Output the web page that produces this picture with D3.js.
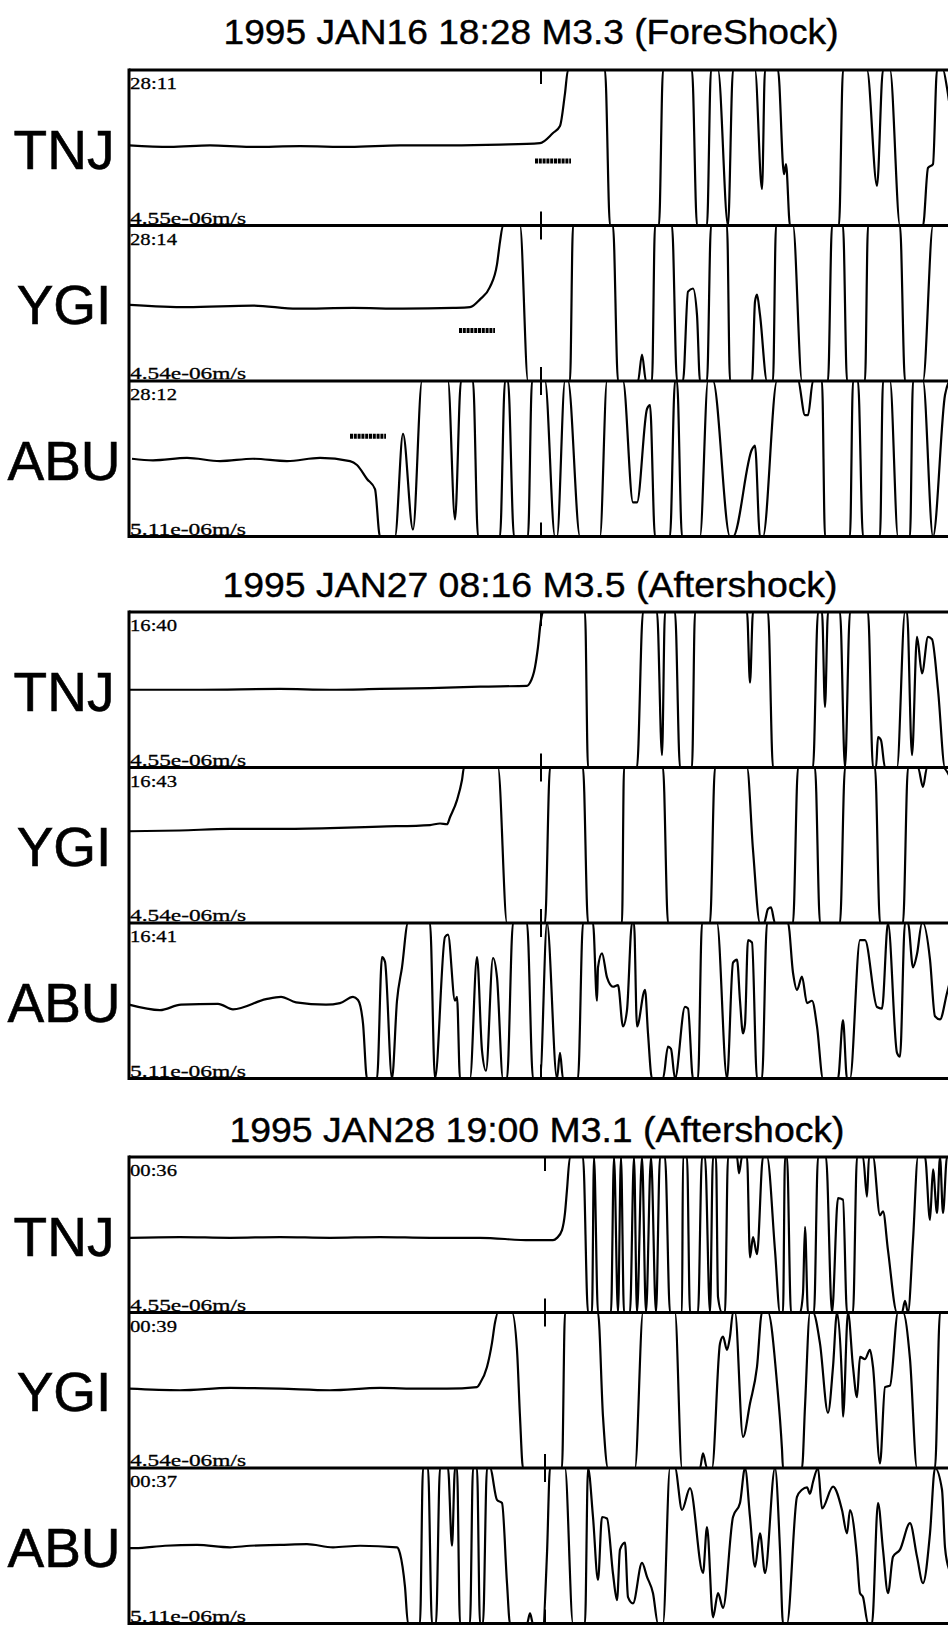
<!DOCTYPE html>
<html>
<head>
<meta charset="utf-8">
<script src="https://cdn.jsdelivr.net/npm/d3@7"></script>
<style>
  body { margin: 0; background: #fff; }
  svg { display: block; }
</style>
</head>
<body>
<div id="chart"></div>
<script>
// event titles, stations and labels
var titles = ["1995 JAN16 18:28 M3.3 (ForeShock)",
              "1995 JAN27 08:16 M3.5 (Aftershock)",
              "1995 JAN28 19:00 M3.1 (Aftershock)"];
var stations = ["TNJ", "YGI", "ABU"];
var fullScale = ["4.55e-06m/s", "4.54e-06m/s", "5.11e-06m/s"];
var startTimes = [["28:11", "28:14", "28:12"],
                  ["16:40", "16:43", "16:41"],
                  ["00:36", "00:39", "00:37"]];

// time mark per event, P pick marks (first event only)
var markTimes = [41.2, 41.2, 41.6];
var pickTimes = [40.6, 33.0, 22.1];
var pickAmps = [-0.17, -0.35, 0.29];
var pickLength = 3.6;

// traces: [time, amplitude as fraction of full scale]
var tnj1 = [[0,0.03],[4.1,0.01],[8.1,0.03],[12.1,0.01],[17.1,0.02],[22.1,0.01],[27.1,0.03],[32.1,0.03],[37.1,0.04],[41.1,0.06],[42.4,0.19],[43.1,0.28],[43.6,0.70],[43.9,1],[47.6,1],[48.1,-1],[53.0,-1],[53.4,1],[56.3,1],[56.8,-1],[57.8,-1],[58.2,1],[58.9,1],[59.9,-1],[60.4,1],[62.6,1],[63.3,-0.53],[63.6,1],[64.9,1],[65.5,-0.34],[65.7,-0.21],[66.1,-1],[71.0,-1],[71.4,1],[73.8,1],[74.8,-0.49],[75.4,1],[76.1,1],[77.1,-1],[79.4,-1],[79.9,-0.26],[80.4,-0.21],[80.8,1],[81.4,1],[81.8,0.77],[82,0.6]];
var ygi1 = [[0.1,-0.02],[5.8,-0.05],[12.4,-0.03],[16.8,-0.07],[22.4,-0.06],[27.4,-0.07],[32.4,-0.06],[34.1,-0.05],[35.1,0.05],[36.1,0.21],[36.8,0.50],[37.1,0.79],[37.4,1],[39.1,1],[39.9,-1],[44.1,-1],[44.4,1],[48.4,1],[48.9,-1],[50.9,-1],[51.3,-0.66],[51.7,-1],[52.3,-1],[52.6,1],[54.3,1],[54.8,-1],[55.4,-1],[55.9,0.15],[56.4,0.19],[56.8,-0.15],[57.1,-1],[57.8,-1],[58.2,1],[59.8,1],[60.1,-1],[62.3,-1],[62.6,0.02],[62.8,0.11],[63.1,-0.15],[63.8,-1],[64.4,-1],[64.7,1],[66.4,1],[67.3,-1],[69.9,-1],[70.3,1],[71.4,1],[71.8,-1],[73.6,-1],[73.9,1],[77.1,1],[77.6,-1],[79.4,-1],[80.4,1],[82,1]];
var abu1 = [[0.3,0],[2.4,-0.02],[5.8,0.01],[9.1,-0.03],[12.4,0],[15.8,-0.03],[19.1,0.01],[22.1,-0.03],[22.8,-0.08],[23.8,-0.26],[24.6,-0.39],[25.1,-1],[26.6,-1],[27.4,0.32],[28.4,-0.91],[29.3,1],[31.9,1],[32.6,-0.78],[33.2,1],[34.4,1],[34.9,-1],[37.1,-1],[37.6,1],[37.9,1],[38.5,-1],[39.9,-1],[40.3,1],[41.6,1],[42.6,-1],[42.8,-1],[43.6,1],[43.9,1],[45.1,-1],[47.1,-1],[47.8,1],[49.4,1],[50.4,-0.56],[50.8,-0.56],[51.8,0.64],[52.1,0.69],[52.6,-1],[54.1,-1],[54.6,1],[54.8,1],[55.3,-1],[57.1,-1],[57.9,1],[58.4,1],[60.1,-1],[60.4,-1],[62.3,0.12],[62.6,0.17],[63.1,-1],[63.4,-1],[64.8,1],[66.9,1],[67.6,0.56],[67.9,0.56],[68.4,1],[69.3,1],[69.6,-1],[72.1,-1],[72.4,1],[72.9,1],[73.4,-1],[75.1,-1],[75.4,1],[76.1,1],[76.9,-1],[78.1,-1],[78.4,1],[79.4,1],[80.4,-1],[81.6,0.82],[82,1]];

var tnj2 = [[0,0],[7.1,0],[15.1,0.01],[20.1,0],[25.1,0.01],[30.1,0.02],[35.1,0.04],[39.8,0.05],[40.1,0.09],[40.6,0.29],[40.9,0.55],[41.2,0.9],[41.4,1],[45.6,1],[45.9,-1],[50.8,-1],[51.4,1],[52.8,1],[53.3,-0.84],[53.6,1],[54.6,1],[55.1,-1],[56.3,-1],[56.6,1],[61.8,1],[62.1,0.09],[62.4,1],[63.9,1],[64.4,-1],[68.4,-1],[68.9,1],[69.3,1],[69.6,-0.22],[69.9,1],[71.1,1],[71.6,-1],[72.1,1],[73.9,1],[74.4,-1],[74.7,-1],[74.9,-0.61],[75.2,-0.65],[75.6,-1],[76.8,-1],[77.6,1],[77.8,1],[78.3,-0.84],[78.8,0.68],[79.3,0.21],[79.9,0.68],[80.3,0.65],[80.9,0],[81.6,-1],[82,-1]];
var ygi2 = [[0,0.18],[5.1,0.19],[10.1,0.21],[15.1,0.21],[20.1,0.22],[25.1,0.24],[30.1,0.26],[31.1,0.28],[31.8,0.27],[32.1,0.36],[32.8,0.58],[33.3,0.84],[33.5,1],[36.9,1],[37.8,-1],[41.6,-1],[42.1,1],[45.4,1],[45.9,-1],[49.3,-1],[49.5,1],[53.4,1],[53.9,-1],[58.1,-1],[58.6,1],[61.8,1],[62.4,-0.06],[63.1,-1],[63.5,-1],[63.9,-0.82],[64.2,-0.8],[64.6,-1],[66.4,-1],[66.9,1],[68.6,1],[69.1,-1],[71.1,-1],[71.6,1],[74.6,1],[75.1,-1],[77.4,-1],[77.9,1],[78.9,1],[79.4,0.75],[79.8,1],[81.4,1],[82,0.9]];
var abu2 = [[0,-0.05],[3.1,-0.12],[5.2,-0.05],[8.9,-0.04],[10.4,-0.11],[13.7,0.02],[15.2,0.05],[16.7,-0.02],[19.7,-0.05],[21.1,-0.03],[22.4,0.05],[22.9,0.01],[23.4,-0.29],[23.8,-1],[24.8,-1],[25.3,0.56],[25.6,0.5],[26.3,-1],[26.8,0],[27.3,0.43],[27.9,1],[30.1,1],[30.6,-1],[31.6,0.82],[31.9,0.85],[32.6,0],[32.8,0.05],[33.1,-1],[34.1,-1],[34.8,0.56],[35.3,-0.64],[35.7,-0.9],[36.4,0.55],[36.8,0.3],[37.4,-1],[37.8,-1],[38.4,1],[39.8,1],[40.4,-1],[41.1,-1],[41.8,1],[42.8,-1],[43.1,-0.67],[43.4,-1],[44.9,-1],[45.4,1],[46.4,1],[46.8,0],[46.9,0.43],[47.3,0.61],[47.8,0.3],[48.4,0.18],[48.9,0.2],[49.4,-0.33],[49.8,-0.12],[50.3,1],[50.5,1],[50.8,-0.33],[51.6,0.14],[51.9,-0.42],[52.3,-1],[53.4,-1],[53.9,-0.59],[54.2,-0.62],[54.6,-1],[55.6,-0.08],[55.9,-0.1],[56.4,-1],[56.9,-1],[57.3,1],[58.8,1],[59.8,-1],[60.4,0.49],[60.8,0.53],[61.1,0],[61.4,-0.42],[61.6,-0.3],[61.9,0.78],[62.3,0.75],[62.8,-1],[63.3,-1],[63.8,1],[65.9,1],[66.4,0.36],[66.8,0.14],[67.3,0.31],[67.8,-0.03],[68.3,0],[68.8,-0.33],[69.4,-1],[70.9,-1],[71.4,-0.25],[71.8,-1],[72.1,-1],[73.1,0.78],[73.6,0.78],[74.8,-0.08],[75.3,-0.1],[75.9,1],[76.8,-0.67],[77.1,-0.72],[77.6,1],[77.9,1],[78.4,0.43],[78.8,0.6],[79.3,1],[79.4,1],[80.1,0.53],[80.6,-0.2],[81.1,-0.24],[81.8,0.1],[82,0.2]];

var tnj3 = [[0,-0.04],[5.1,-0.03],[10.1,-0.04],[15.1,-0.03],[20.1,-0.04],[25.1,-0.03],[30.1,-0.04],[35.1,-0.04],[40.1,-0.07],[42.4,-0.07],[42.8,-0.04],[43.3,0.06],[43.6,0.28],[43.8,0.58],[44.1,1],[45.4,1],[45.9,-1],[46.3,-1],[46.5,1],[46.9,-1],[48.2,-1],[48.5,1],[48.9,-1],[49.2,1],[49.5,-1],[50.1,-1],[50.5,1],[50.8,-1],[51.3,1],[51.7,-1],[52.2,1],[52.7,-1],[53.1,1],[53.6,1],[54.1,-1],[55.3,-1],[55.4,1],[55.8,1],[56.1,-1],[56.9,-1],[57.3,1],[57.6,1],[58.1,-1],[58.4,1],[58.7,1],[58.9,-0.8],[59.3,-1],[59.6,-1],[59.9,1],[60.8,1],[61.0,0.79],[61.3,1],[61.8,1],[62.1,-0.29],[62.4,-0.03],[62.8,-0.25],[63.4,1],[63.8,1],[64.6,-0.2],[65.1,-1],[65.4,-1],[65.6,1],[65.8,1],[66.2,-1],[67.1,-1],[67.4,-0.75],[67.6,0.1],[67.9,-1],[68.5,-1],[68.9,1],[69.7,1],[70.3,-1],[70.9,0.47],[71.4,0.45],[71.8,-1],[72.4,-1],[72.8,1],[73.4,1],[73.8,0.49],[74.0,1],[74.4,1],[75.1,0.25],[75.4,0.3],[75.9,-0.2],[76.8,-1],[77.3,-1],[77.6,-0.85],[77.9,-1],[78.4,-0.07],[78.9,1],[79.6,1],[80.1,0.19],[80.4,0.84],[80.8,0.28],[81.1,1],[81.4,0.28],[81.8,1],[82,1]];
var ygi3 = [[0,0.02],[5.1,0],[10.1,0.03],[15.1,0.02],[20.1,0],[25.1,0.03],[29.1,0.02],[31.8,0.02],[34.8,0.04],[35.1,0.09],[35.8,0.3],[36.3,0.61],[36.6,0.87],[36.9,1],[38.3,1],[38.8,0.52],[39.1,-0.34],[39.4,-1],[43.3,-1],[43.6,1],[46.9,1],[47.4,-0.34],[47.9,-1],[50.6,-1],[51.4,1],[54.6,1],[55.3,-1],[57.1,-1],[57.4,-0.81],[57.8,-1],[58.3,-1],[59.1,0.6],[59.4,0.69],[59.8,0.52],[60.1,0.69],[60.4,1],[60.6,1],[61.4,-0.6],[62.1,-0.17],[62.8,0.3],[63.3,1],[63.9,1],[64.8,0.09],[65.3,-0.76],[65.4,-1],[67.3,-1],[67.6,-0.21],[68.1,1],[68.4,1],[69.1,0.6],[69.9,-0.29],[70.4,0.3],[70.8,1],[71.3,0.09],[71.4,-0.34],[71.9,1],[72.4,0.3],[72.8,-0.09],[73.1,0.43],[73.6,0.4],[74.1,0.52],[74.4,0.3],[75.1,-0.94],[75.6,0.04],[76.1,0.06],[76.9,1],[77.4,1],[78.1,0.4],[78.8,-1],[80.6,-1],[81.1,1],[82,1]];
var abu3 = [[0,-0.03],[0.6,-0.03],[3.6,0],[6.8,0.01],[10.1,-0.02],[12.1,0],[15.1,0.01],[17.8,0.02],[20.4,-0.02],[23.1,0],[26.8,-0.02],[27.1,-0.1],[27.6,-0.53],[27.9,-1],[29.1,-1],[29.4,1],[29.9,1],[30.3,-1],[30.7,-1],[31.1,1],[31.9,1],[32.3,0],[32.6,1],[32.8,1],[33.1,-1],[34.1,-1],[34.4,1],[34.8,1],[35.1,-1],[35.4,-1],[35.8,1],[36.1,1],[36.8,0.59],[37.3,0.55],[37.8,-0.48],[38.1,-1],[39.8,-1],[40.1,-0.87],[40.4,-1],[41.4,-1],[41.8,-0.1],[42.1,1],[43.6,1],[44.4,-1],[45.6,-1],[45.9,1],[46.4,0.37],[46.9,-0.44],[47.3,0.37],[47.8,0.35],[48.4,-0.36],[48.8,-0.7],[49.1,-0.05],[49.6,0.04],[49.9,-0.66],[50.4,-0.74],[51.3,-0.22],[51.8,-0.4],[52.4,-0.61],[52.9,-1],[53.4,-1],[54.1,1],[54.6,1],[55.3,0.46],[56.1,0.74],[57.4,-0.35],[57.8,0.24],[58.4,-0.92],[58.9,-0.61],[59.4,-0.8],[60.4,0.37],[61.1,0.55],[61.6,1],[62.1,0.37],[62.6,-0.27],[63.1,0.16],[63.6,-0.35],[64.6,1],[65.1,-0.05],[65.4,-1],[65.8,-1],[66.8,0.63],[67.3,0.72],[67.8,0.75],[68.1,0.67],[68.4,0.82],[68.9,1],[69.3,0.48],[70.4,0.76],[71.3,0.46],[71.8,0.16],[72.1,0.46],[72.8,-0.14],[73.1,-0.61],[73.4,-0.66],[73.9,-1],[74.3,-1],[74.9,0.55],[75.4,-0.05],[75.9,-0.61],[76.4,-0.14],[77.1,-0.05],[78.1,0.29],[78.8,-0.14],[79.4,-0.48],[80.1,0.16],[80.6,1],[81.3,0.72],[81.6,-0.02],[82,-0.3]];

var traces = [[tnj1, ygi1, abu1], [tnj2, ygi2, abu2], [tnj3, ygi3, abu3]];

// layout
var W = 948, H = 1625;
var left = 129, right = 949;
var panelH = 155.5;
var groupTop = [70, 612, 1157];
var titleX = [531, 530, 537];
var titleY = [44, 597, 1142];

var xScale = d3.scaleLinear()
    .domain([0, 82])
    .range([left, right]);

var yScale = d3.scaleLinear()
    .domain([-1, 1])
    .range([panelH, 0])
    .clamp(true);

var line = d3.line()
    .curve(d3.curveMonotoneX)
    .x(function(d) { return xScale(d[0]); })
    .y(function(d) { return yScale(d[1]); });

var svg = d3.select('#chart').append('svg')
    .attr("width", W)
    .attr("height", H)
    .style("font-family", "'Liberation Sans', Arial, sans-serif");

svg.append("rect").attr("width", W).attr("height", H).attr("fill", "#fff");

titles.forEach(function(title, gi) {
    //event title
    svg.append("text")
        .attr("x", titleX[gi])
        .attr("y", titleY[gi])
        .attr("text-anchor", "middle")
        .attr("font-size", 35)
        .attr("textLength", 615)
        .attr("lengthAdjust", "spacingAndGlyphs")
        .attr("stroke", "#000")
        .attr("stroke-width", 0.4)
        .text(title);

    var grp = svg.append("g")
        .attr("transform", "translate(0," + groupTop[gi] + ")");

    var panel = grp.selectAll("g.panel")
        .data(stations)
        .enter()
        .append("g")
        .attr("class", "panel")
        .attr("transform", function(d, si) { return "translate(0," + (si * panelH) + ")"; });

    //station name
    panel.append("text")
        .attr("x", 64)
        .attr("y", panelH / 2 + 21)
        .attr("text-anchor", "middle")
        .attr("font-size", 55)
        .attr("stroke", "#000")
        .attr("stroke-width", 0.6)
        .text(function(d) { return d; });

    //waveform
    panel.append("path")
        .datum(function(d, si) { return traces[gi][si]; })
        .attr("d", line)
        .attr("fill", "none")
        .attr("stroke", "#000")
        .attr("stroke-width", 2.2)
        .attr("stroke-linejoin", "round");

    //time mark ticks
    panel.append("line")
        .attr("x1", xScale(markTimes[gi])).attr("x2", xScale(markTimes[gi]))
        .attr("y1", 0).attr("y2", 14)
        .attr("stroke", "#000").attr("stroke-width", 2);
    panel.append("line")
        .attr("x1", xScale(markTimes[gi])).attr("x2", xScale(markTimes[gi]))
        .attr("y1", panelH - 14).attr("y2", panelH)
        .attr("stroke", "#000").attr("stroke-width", 2);

    //P picks
    if (gi === 0) {
        panel.append("line")
            .attr("x1", function(d, si) { return xScale(pickTimes[si]); })
            .attr("x2", function(d, si) { return xScale(pickTimes[si] + pickLength); })
            .attr("y1", function(d, si) { return yScale(pickAmps[si]); })
            .attr("y2", function(d, si) { return yScale(pickAmps[si]); })
            .attr("stroke", "#000")
            .attr("stroke-width", 5)
            .attr("stroke-dasharray", "3,0.8");
    }

    //start time, top left
    panel.append("text")
        .attr("x", left + 1)
        .attr("y", 19)
        .attr("font-family", "'Liberation Serif', serif")
        .attr("font-size", 17)
        .attr("textLength", 47)
        .attr("lengthAdjust", "spacingAndGlyphs")
        .attr("stroke", "#000")
        .attr("stroke-width", 0.3)
        .text(function(d, si) { return startTimes[gi][si]; });

    //full scale, bottom left
    panel.append("text")
        .attr("x", left + 1)
        .attr("y", panelH - 2)
        .attr("font-family", "'Liberation Serif', serif")
        .attr("font-size", 17)
        .attr("textLength", 116)
        .attr("lengthAdjust", "spacingAndGlyphs")
        .attr("stroke", "#000")
        .attr("stroke-width", 0.3)
        .text(function(d, si) { return fullScale[si]; });

    //panel borders
    panel.append("line")
        .attr("x1", left).attr("x2", W)
        .attr("y1", 0).attr("y2", 0)
        .attr("stroke", "#000").attr("stroke-width", 3);

    grp.append("line")
        .attr("x1", left).attr("x2", W)
        .attr("y1", 3 * panelH).attr("y2", 3 * panelH)
        .attr("stroke", "#000").attr("stroke-width", 3);

    grp.append("line")
        .attr("x1", left).attr("x2", left)
        .attr("y1", -1.5).attr("y2", 3 * panelH + 1.5)
        .attr("stroke", "#000").attr("stroke-width", 3);
});
</script>
</body>
</html>
